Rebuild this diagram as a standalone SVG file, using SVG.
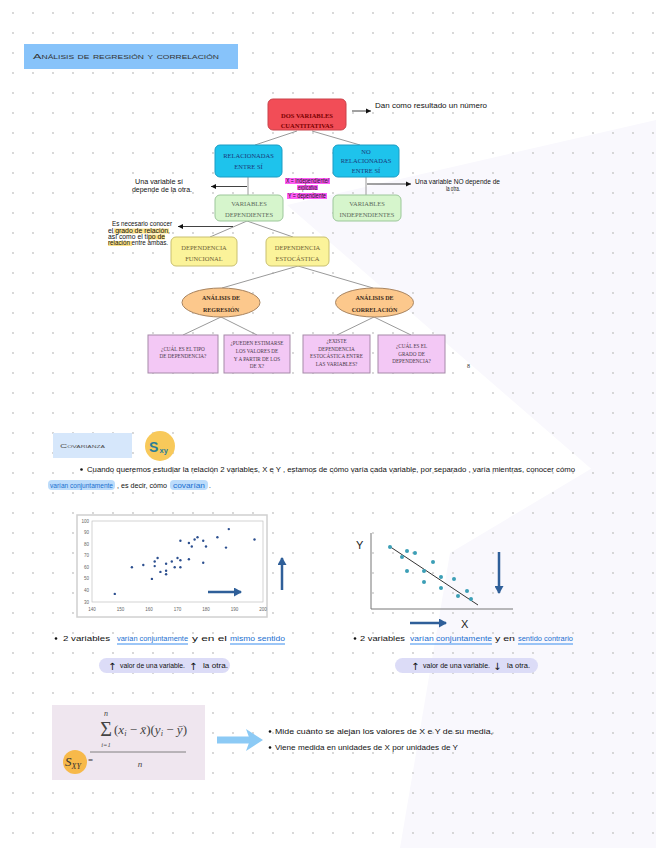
<svg xmlns="http://www.w3.org/2000/svg" width="656" height="848" viewBox="0 0 656 848">
<defs>
<pattern id="dots" x="0" y="0" width="20" height="20" patternUnits="userSpaceOnUse"><circle cx="13" cy="13" r="0.9" fill="#c6c6c6"/></pattern>
<marker id="ahk" markerWidth="6" markerHeight="6" refX="5" refY="3" orient="auto" markerUnits="userSpaceOnUse"><path d="M0,0.5 L5,3 L0,5.5 z" fill="#111"/></marker>
<marker id="ahb" markerWidth="9" markerHeight="9" refX="7" refY="4.5" orient="auto" markerUnits="userSpaceOnUse"><path d="M0,0 L8,4.5 L0,9 z" fill="#2f5f99"/></marker>
</defs>
<style>
.hw{font-family:"Liberation Sans",sans-serif;font-size:6.5px;fill:#111}
.bx{font-family:"Liberation Serif",serif;text-anchor:middle}
.ln{stroke:#9a9a9a;stroke-width:1;fill:none}
.ann{stroke:#111;stroke-width:0.8;fill:none}
.blue{fill:#1a6fd0}
.ul{stroke:#3a8ef0;stroke-width:1.2}
.pt{fill:#2c4f8f}
.pt2{fill:#3c9fb6}
.tick{font-family:"Liberation Sans",sans-serif;font-size:4.5px;fill:#666}
.barr{stroke:#2f5f99;stroke-width:2.5;fill:none}
</style>
<rect width="656" height="848" fill="#ffffff"/>
<polygon points="287,205 656,120 656,525" fill="#f9f8fd"/>
<polygon points="450,553 656,430 656,848 400,848" fill="#f9f8fd"/>
<rect width="656" height="848" fill="url(#dots)"/>

<g id="title">
<rect x="24" y="44" width="214" height="25" fill="#87c3fa"/>
<text x="33" y="58.5" font-family="Liberation Sans,sans-serif" font-size="7.5" font-variant="small-caps" fill="#333" textLength="186" lengthAdjust="spacingAndGlyphs">Análisis de regresión y correlación</text>
</g>

<g id="connectors">
<line class="ln" x1="297" y1="131" x2="255" y2="145"/>
<line class="ln" x1="312" y1="131" x2="360" y2="145"/>
<line class="ln" x1="248" y1="177" x2="248" y2="195"/>
<line class="ln" x1="366" y1="177" x2="366" y2="195"/>
<line class="ln" x1="247" y1="221" x2="210" y2="237"/>
<line class="ln" x1="247" y1="221" x2="293" y2="237"/>
<line class="ln" x1="298" y1="266" x2="222" y2="288"/>
<line class="ln" x1="298" y1="266" x2="373" y2="288"/>
<line class="ln" x1="221" y1="317" x2="183" y2="335"/>
<line class="ln" x1="221" y1="317" x2="257" y2="335"/>
<line class="ln" x1="374" y1="317" x2="337" y2="335"/>
<line class="ln" x1="374" y1="317" x2="411" y2="335"/>
<line class="ann" x1="352" y1="111" x2="371" y2="111" marker-end="url(#ahk)"/>
<line class="ann" x1="247" y1="186.5" x2="211" y2="186.5" marker-end="url(#ahk)"/>
<line class="ann" x1="367" y1="184" x2="411" y2="184" marker-end="url(#ahk)"/>
<line class="ann" x1="233" y1="226.5" x2="178" y2="226.5" marker-end="url(#ahk)"/>
</g>

<g id="n-dos">
<rect x="268" y="99" width="78" height="31" rx="5" fill="#f24d57" stroke="#c9434b"/>
<text class="bx" x="307" y="117.5" font-size="6.5" font-weight="bold" fill="#7a0000">DOS VARIABLES</text>
<text class="bx" x="307" y="128" font-size="6.5" font-weight="bold" fill="#7a0000">CUANTITATIVAS</text>
</g>
<text class="hw" x="375" y="108" textLength="112" lengthAdjust="spacingAndGlyphs">Dan como resultado un número</text>

<g id="n-rel">
<rect x="215" y="145" width="67" height="32" rx="5" fill="#1ec3ec" stroke="#1a9cc4"/>
<text class="bx" x="248.5" y="157.5" font-size="6.5" fill="#1a3a7a">RELACIONADAS</text>
<text class="bx" x="248.5" y="168.5" font-size="6.5" fill="#1a3a7a">ENTRE SÍ</text>
</g>
<g id="n-norel">
<rect x="333" y="145" width="66" height="32" rx="5" fill="#1ec3ec" stroke="#1a9cc4"/>
<text class="bx" x="366" y="154" font-size="6.5" fill="#1a3a7a">NO</text>
<text class="bx" x="366" y="163" font-size="6.5" fill="#1a3a7a">RELACIONADAS</text>
<text class="bx" x="366" y="172.5" font-size="6.5" fill="#1a3a7a">ENTRE SÍ</text>
</g>

<text class="hw" x="135" y="184" font-size="5.5" textLength="48" lengthAdjust="spacingAndGlyphs">Una variable sí</text>
<text class="hw" x="132" y="192" font-size="5.5" textLength="60" lengthAdjust="spacingAndGlyphs">depende de la otra.</text>
<text class="hw" x="415" y="184" font-size="5.5" textLength="85" lengthAdjust="spacingAndGlyphs">Una variable NO depende de</text>
<text class="hw" x="446" y="191" font-size="5.5" textLength="14" lengthAdjust="spacingAndGlyphs">la otra.</text>

<g id="n-xy">
<rect x="285" y="178" width="45" height="6" fill="#ff5cf5"/>
<rect x="297" y="185" width="21" height="5" fill="#ff5cf5"/>
<rect x="287" y="193" width="40" height="6" fill="#ff5cf5"/>
<text class="hw" x="286" y="183" font-size="5" textLength="43" lengthAdjust="spacingAndGlyphs">X = independiente/</text>
<text class="hw" x="298" y="189.5" font-size="5" textLength="19" lengthAdjust="spacingAndGlyphs">explicativa</text>
<text class="hw" x="288" y="198" font-size="5" textLength="38" lengthAdjust="spacingAndGlyphs">Y = dependiente</text>
</g>

<g id="n-dep">
<rect x="215" y="195" width="68" height="26" rx="5" fill="#d6f5cc" stroke="#9cc79a"/>
<text class="bx" x="249" y="206" font-size="6.5" fill="#5d6b5d">VARIABLES</text>
<text class="bx" x="249" y="216.5" font-size="6.5" fill="#5d6b5d">DEPENDIENTES</text>
</g>
<g id="n-indep">
<rect x="333" y="195" width="68" height="26" rx="5" fill="#d6f5cc" stroke="#9cc79a"/>
<text class="bx" x="367" y="206" font-size="6.5" fill="#5d6b5d">VARIABLES</text>
<text class="bx" x="367" y="216.5" font-size="6.5" fill="#5d6b5d">INDEPENDIENTES</text>
</g>

<g id="ann-grado">
<rect x="114" y="228.5" width="55" height="5" fill="#fde38a"/>
<rect x="148" y="234.5" width="17" height="5" fill="#fde38a"/>
<rect x="108" y="241" width="24" height="5" fill="#fde38a"/>
<text class="hw" x="112" y="226" font-size="5.3" textLength="60" lengthAdjust="spacingAndGlyphs">Es necesario conocer</text>
<text class="hw" x="108" y="232.5" font-size="5.3" textLength="62" lengthAdjust="spacingAndGlyphs">el grado de relación,</text>
<text class="hw" x="108" y="238.5" font-size="5.3" textLength="57" lengthAdjust="spacingAndGlyphs">así como el tipo de</text>
<text class="hw" x="108" y="245" font-size="5.3" textLength="60" lengthAdjust="spacingAndGlyphs">relación entre ambas.</text>
</g>

<g id="n-func">
<rect x="171" y="237" width="66" height="29" rx="5" fill="#fbf39a" stroke="#c9c070"/>
<text class="bx" x="204" y="249.5" font-size="6.5" fill="#6e6235">DEPENDENCIA</text>
<text class="bx" x="204" y="260.5" font-size="6.5" fill="#6e6235">FUNCIONAL</text>
</g>
<g id="n-esto">
<rect x="266" y="237" width="63" height="29" rx="5" fill="#fbf39a" stroke="#c9c070"/>
<text class="bx" x="297.5" y="249.5" font-size="6.5" fill="#6e6235">DEPENDENCIA</text>
<text class="bx" x="297.5" y="260.5" font-size="6.5" fill="#6e6235">ESTOCÁSTICA</text>
</g>

<g id="n-regr">
<ellipse cx="221" cy="302.5" rx="39" ry="14.5" fill="#fcc88c" stroke="#a88460"/>
<text class="bx" x="221" y="299.5" font-size="6" font-weight="bold" fill="#3a2a1a">ANÁLISIS DE</text>
<text class="bx" x="221" y="311.5" font-size="6" font-weight="bold" fill="#3a2a1a">REGRESIÓN</text>
</g>
<g id="n-corr">
<ellipse cx="374.5" cy="302.5" rx="39" ry="14.5" fill="#fcc88c" stroke="#a88460"/>
<text class="bx" x="374.5" y="299.5" font-size="6" font-weight="bold" fill="#3a2a1a">ANÁLISIS DE</text>
<text class="bx" x="374.5" y="311.5" font-size="6" font-weight="bold" fill="#3a2a1a">CORRELACIÓN</text>
</g>

<g id="n-q1">
<rect x="148" y="335" width="70" height="38" fill="#f3c8f5" stroke="#a58aa8"/>
<text class="bx" x="183" y="350.5" font-size="5.2" fill="#4a3a4a">¿CUÁL ES EL TIPO</text>
<text class="bx" x="183" y="358" font-size="5.2" fill="#4a3a4a">DE DEPENDENCIA?</text>
</g>
<g id="n-q2">
<rect x="224" y="335" width="66" height="38" fill="#f3c8f5" stroke="#a58aa8"/>
<text class="bx" x="257" y="344.5" font-size="5.2" fill="#4a3a4a">¿PUEDEN ESTIMARSE</text>
<text class="bx" x="257" y="352.5" font-size="5.2" fill="#4a3a4a">LOS VALORES DE</text>
<text class="bx" x="257" y="360.5" font-size="5.2" fill="#4a3a4a">Y A PARTIR DE LOS</text>
<text class="bx" x="257" y="368" font-size="5.2" fill="#4a3a4a">DE X?</text>
</g>
<g id="n-q3">
<rect x="303" y="335" width="67" height="38" fill="#f3c8f5" stroke="#a58aa8"/>
<text class="bx" x="336.5" y="343" font-size="5.2" fill="#4a3a4a">¿EXISTE</text>
<text class="bx" x="336.5" y="350.5" font-size="5.2" fill="#4a3a4a">DEPENDENCIA</text>
<text class="bx" x="336.5" y="358" font-size="5.2" fill="#4a3a4a">ESTOCÁSTICA ENTRE</text>
<text class="bx" x="336.5" y="366" font-size="5.2" fill="#4a3a4a">LAS VARIABLES?</text>
</g>
<g id="n-q4">
<rect x="378" y="335" width="67" height="38" fill="#f3c8f5" stroke="#a58aa8"/>
<text class="bx" x="411.5" y="348" font-size="5.2" fill="#4a3a4a">¿CUÁL ES EL</text>
<text class="bx" x="411.5" y="356" font-size="5.2" fill="#4a3a4a">GRADO DE</text>
<text class="bx" x="411.5" y="363" font-size="5.2" fill="#4a3a4a">DEPENDENCIA?</text>
</g>
<text x="467" y="368" font-family="Liberation Serif,serif" font-size="6" fill="#333">8</text>

<g id="covarianza">
<rect x="53" y="433" width="79" height="25" fill="#d6e7fb"/>
<text x="60" y="447.5" font-family="Liberation Sans,sans-serif" font-size="6" font-variant="small-caps" fill="#555" textLength="45" lengthAdjust="spacingAndGlyphs">Covarianza</text>
<circle cx="160" cy="446" r="15" fill="#f8c95a"/>
<text x="149" y="452" font-family="Liberation Sans,sans-serif" font-size="14" font-weight="bold" fill="#2c7d98">S</text>
<text x="159.5" y="453" font-family="Liberation Sans,sans-serif" font-size="7.5" font-weight="bold" fill="#2c7d98">xy</text>
</g>

<g id="intro">
<circle cx="81.5" cy="469.5" r="1.3" fill="#111"/>
<text class="hw" x="87" y="472" textLength="488" lengthAdjust="spacingAndGlyphs">Cuando queremos estudiar la relación 2 variables, X e Y , estamos de cómo varía cada variable, por separado ,  varía mientras, conocer cómo</text>
<rect x="48" y="480" width="67" height="10" rx="4" fill="#bcdcfb"/>
<text class="hw blue" x="50" y="487.5" textLength="63" lengthAdjust="spacingAndGlyphs">varían conjuntamente</text>
<text class="hw" x="117" y="487.5" textLength="50" lengthAdjust="spacingAndGlyphs">, es decir, cómo</text>
<rect x="170" y="480" width="38" height="10" rx="4" fill="#bcdcfb"/>
<text class="hw blue" x="173" y="487.5" textLength="32" lengthAdjust="spacingAndGlyphs">covarían</text>
<text class="hw" x="209" y="487.5">.</text>
</g>

<g id="chart-left">
<rect x="77" y="515" width="190" height="102" fill="#fff" stroke="#d0d0d0" stroke-width="1.5"/>
<rect x="92" y="521" width="171" height="81" fill="none" stroke="#c0c0c0" stroke-width="0.7"/>
<g class="tick" text-anchor="end">
<text x="89" y="522.5">100</text><text x="89" y="534">90</text><text x="89" y="545.5">80</text><text x="89" y="557">70</text><text x="89" y="568.5">60</text><text x="89" y="580">50</text><text x="89" y="591.5">40</text><text x="89" y="603.5">30</text>
</g>
<g class="tick" text-anchor="middle">
<text x="92" y="611">140</text><text x="120.5" y="611">150</text><text x="149" y="611">160</text><text x="177.5" y="611">170</text><text x="206" y="611">180</text><text x="234.5" y="611">190</text><text x="263" y="611">200</text>
</g>
<g class="pt">
<circle cx="114.8" cy="593.9" r="1.2"/><circle cx="131.9" cy="567.3" r="1.2"/><circle cx="143.3" cy="565" r="1.2"/><circle cx="151.9" cy="578.9" r="1.2"/><circle cx="154.7" cy="561.5" r="1.2"/><circle cx="154.7" cy="566.1" r="1.2"/><circle cx="157.6" cy="558" r="1.2"/><circle cx="160.4" cy="571.9" r="1.2"/><circle cx="166.1" cy="563.8" r="1.2"/><circle cx="166.1" cy="570.8" r="1.2"/><circle cx="166.1" cy="574.2" r="1.2"/><circle cx="171.8" cy="561.5" r="1.2"/><circle cx="174.7" cy="567.3" r="1.2"/><circle cx="177.5" cy="558" r="1.2"/><circle cx="180.4" cy="560.3" r="1.2"/><circle cx="180.4" cy="567.3" r="1.2"/><circle cx="180.4" cy="540.7" r="1.2"/><circle cx="188.9" cy="543" r="1.2"/><circle cx="188.9" cy="559.2" r="1.2"/><circle cx="191.8" cy="546.5" r="1.2"/><circle cx="194.6" cy="539.5" r="1.2"/><circle cx="197.5" cy="537.2" r="1.2"/><circle cx="203.2" cy="540.7" r="1.2"/><circle cx="203.2" cy="562.7" r="1.2"/><circle cx="206" cy="546.5" r="1.2"/><circle cx="217.4" cy="537.2" r="1.2"/><circle cx="226" cy="547.6" r="1.2"/><circle cx="228.8" cy="529.1" r="1.2"/><circle cx="254.5" cy="539.5" r="1.2"/>
</g>
<line class="barr" x1="208" y1="592" x2="241" y2="592" marker-end="url(#ahb)"/>
<line class="barr" x1="282" y1="590" x2="282" y2="558" marker-end="url(#ahb)"/>
</g>

<g id="chart-right">
<text x="356" y="549" font-family="Liberation Sans,sans-serif" font-size="11" fill="#222">Y</text>
<polyline points="371,533 371,609 513,609" fill="none" stroke="#777" stroke-width="1"/>
<line x1="389" y1="546" x2="478" y2="605" stroke="#333" stroke-width="1"/>
<g class="pt2">
<circle cx="390" cy="547" r="2"/><circle cx="407" cy="551" r="2"/><circle cx="415" cy="553" r="2"/><circle cx="402" cy="557" r="2"/><circle cx="433" cy="562" r="2"/><circle cx="407" cy="571" r="2"/><circle cx="424" cy="571" r="2"/><circle cx="441" cy="577" r="2"/><circle cx="454" cy="579" r="2"/><circle cx="424" cy="582" r="2"/><circle cx="441" cy="588" r="2"/><circle cx="467" cy="591" r="2"/><circle cx="458" cy="596" r="2"/><circle cx="471" cy="599" r="2"/>
</g>
<line class="barr" x1="499" y1="552" x2="499" y2="593" marker-end="url(#ahb)"/>
<line class="barr" x1="410" y1="623" x2="446" y2="623" marker-end="url(#ahb)"/>
<text x="461" y="628" font-family="Liberation Sans,sans-serif" font-size="11" fill="#222">X</text>
</g>

<g id="bullet-left">
<circle cx="56" cy="638.5" r="1.3" fill="#111"/>
<text class="hw" x="63" y="641" textLength="47" lengthAdjust="spacingAndGlyphs">2 variables</text>
<text class="hw blue" x="117" y="641" textLength="71" lengthAdjust="spacingAndGlyphs">varían conjuntamente</text>
<line class="ul" x1="117" y1="644" x2="188" y2="644"/>
<text class="hw" x="192" y="641" textLength="35" lengthAdjust="spacingAndGlyphs">y en el</text>
<text class="hw blue" x="230" y="641" textLength="55" lengthAdjust="spacingAndGlyphs">mismo sentido</text>
<line class="ul" x1="230" y1="644" x2="285" y2="644"/>
<rect x="99" y="658" width="131" height="15" rx="7.5" fill="#dcdcf7"/>
<text x="108" y="669.5" font-family="DejaVu Sans,sans-serif" font-size="10" fill="#111">↑</text>
<text class="hw" x="120" y="668" textLength="65" lengthAdjust="spacingAndGlyphs">valor de una variable.</text>
<text x="189" y="669.5" font-family="DejaVu Sans,sans-serif" font-size="10" fill="#111">↑</text>
<text class="hw" x="203" y="668" textLength="25" lengthAdjust="spacingAndGlyphs">la otra.</text>
</g>

<g id="bullet-right">
<circle cx="355" cy="638.5" r="1.3" fill="#111"/>
<text class="hw" x="360" y="641" textLength="45" lengthAdjust="spacingAndGlyphs">2 variables</text>
<text class="hw blue" x="410" y="641" textLength="82" lengthAdjust="spacingAndGlyphs">varían conjuntamente</text>
<line class="ul" x1="410" y1="644" x2="492" y2="644"/>
<text class="hw" x="495" y="641" textLength="20" lengthAdjust="spacingAndGlyphs">y en</text>
<text class="hw blue" x="518" y="641" textLength="55" lengthAdjust="spacingAndGlyphs">sentido contrario</text>
<line class="ul" x1="518" y1="644" x2="573" y2="644"/>
<rect x="395" y="658" width="143" height="15" rx="7.5" fill="#dcdcf7"/>
<text x="411" y="669.5" font-family="DejaVu Sans,sans-serif" font-size="10" fill="#111">↑</text>
<text class="hw" x="423" y="668" textLength="67" lengthAdjust="spacingAndGlyphs">valor de una variable.</text>
<text x="493" y="669.5" font-family="DejaVu Sans,sans-serif" font-size="10" fill="#111">↓</text>
<text class="hw" x="507" y="668" textLength="23" lengthAdjust="spacingAndGlyphs">la otra.</text>
</g>

<g id="formula">
<rect x="52" y="705" width="153" height="75" fill="#efe6ef"/>
<text x="106" y="716" font-family="Liberation Serif,serif" font-size="8" font-style="italic" fill="#444" text-anchor="middle">n</text>
<text x="106" y="736" font-family="Liberation Serif,serif" font-size="20" fill="#444" text-anchor="middle">Σ</text>
<text x="106" y="746.5" font-family="Liberation Serif,serif" font-size="6.5" font-style="italic" fill="#444" text-anchor="middle">i=1</text>
<text x="114" y="734" font-family="Liberation Serif,serif" font-size="12.5" fill="#444" textLength="73" lengthAdjust="spacingAndGlyphs">(<tspan font-style="italic">x</tspan><tspan font-size="8" dy="2" font-style="italic">i</tspan><tspan dy="-2"> − </tspan><tspan font-style="italic">x̄</tspan>)(<tspan font-style="italic">y</tspan><tspan font-size="8" dy="2" font-style="italic">i</tspan><tspan dy="-2"> − </tspan><tspan font-style="italic">ȳ</tspan>)</text>
<line x1="90" y1="752" x2="186" y2="752" stroke="#666" stroke-width="0.8"/>
<text x="140" y="767" font-family="Liberation Serif,serif" font-size="9" font-style="italic" fill="#444" text-anchor="middle">n</text>
<circle cx="75" cy="762" r="12" fill="#f7b94a"/>
<text x="65" y="766" font-family="Liberation Serif,serif" font-size="13" font-style="italic" fill="#333">S<tspan font-size="8" dy="3">XY</tspan></text>
<text x="88" y="763" font-family="Liberation Serif,serif" font-size="9" fill="#333">=</text>
</g>

<g id="arrow-formula">
<line x1="217" y1="740" x2="252" y2="740" stroke="#8ccaf5" stroke-width="7"/>
<polygon points="246,729 263,740 246,751 250,740" fill="#8ccaf5"/>
</g>

<g id="formula-notes">
<circle cx="270" cy="731.5" r="1.3" fill="#111"/>
<text class="hw" x="275" y="734" textLength="218" lengthAdjust="spacingAndGlyphs">Mide cuánto se alejan los valores de X e Y de su media,</text>
<circle cx="270" cy="747.5" r="1.3" fill="#111"/>
<text class="hw" x="275" y="750" textLength="183" lengthAdjust="spacingAndGlyphs">Viene medida en unidades de X por unidades de Y</text>
</g>
</svg>
